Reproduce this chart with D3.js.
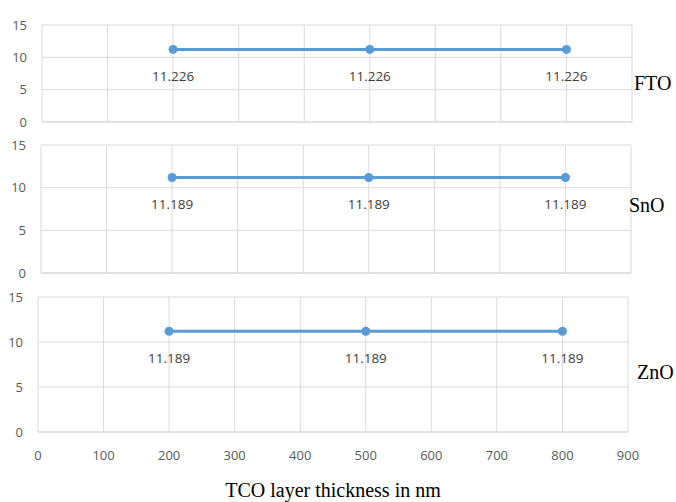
<!DOCTYPE html>
<html>
<head>
<meta charset="utf-8">
<script src="https://cdn.jsdelivr.net/npm/d3@7"></script>
<style>
  html, body { margin: 0; padding: 0; background: #fff; }
  svg { display: block; }
</style>
</head>
<body>
<div id="chart"></div>
<script>
// values
const thickness = [200, 500, 800];
const materials = ["FTO", "SnO", "ZnO"];
const ftoValues = [11.226, 11.226, 11.226];
const snoValues = [11.189, 11.189, 11.189];
const znoValues = [11.189, 11.189, 11.189];
const yTicks = [0, 5, 10, 15];
const xTicks = [0, 100, 200, 300, 400, 500, 600, 700, 800, 900];
const xTitle = "TCO layer thickness in nm";

const width = 676, height = 502;
const series = [ftoValues, snoValues, znoValues];

// panel boxes (the scanned original is slightly skewed, so each has its own)
// nameX / nameY: where the material name sits on the right
const boxes = [
    { left: 42, right: 632, top: 25, bottom: 122, nameX: 634, nameY: 83 },
    { left: 41, right: 631, top: 145, bottom: 273, nameX: 629, nameY: 205 },
    { left: 38, right: 628, top: 297, bottom: 432, nameX: 637, nameY: 372 }
];

const gridColor = "#d9d9d9";
const lineColor = "#5b9bd5";
const tickFont = "'Open Sans', 'DejaVu Sans', sans-serif";
const serifFont = "'Liberation Serif', 'DejaVu Serif', serif";

const svg = d3.select("#chart")
    .append("svg")
    .attr("width", width)
    .attr("height", height);

boxes.forEach((b, i) => {
    const x = d3.scaleLinear().domain([0, 900]).range([b.left, b.right]);
    const y = d3.scaleLinear().domain([0, 15]).range([b.bottom, b.top]);
    const g = svg.append("g");

    // horizontal grid
    g.append("g")
        .selectAll("line")
        .data(yTicks)
        .join("line")
        .attr("x1", b.left)
        .attr("x2", b.right)
        .attr("y1", d => y(d))
        .attr("y2", d => y(d))
        .attr("stroke", gridColor)
        .attr("stroke-width", d => d === 0 ? 1.5 : 1);

    // vertical grid
    g.append("g")
        .selectAll("line")
        .data(xTicks)
        .join("line")
        .attr("x1", d => x(d))
        .attr("x2", d => x(d))
        .attr("y1", b.top)
        .attr("y2", b.bottom)
        .attr("stroke", gridColor)
        .attr("stroke-width", 1);

    // y tick labels
    g.append("g")
        .selectAll("text")
        .data(yTicks)
        .join("text")
        .attr("x", b.left - 15)
        .attr("y", d => y(d))
        .attr("dy", "0.35em")
        .attr("text-anchor", "end")
        .attr("fill", "#595959")
        .style("font", `13px ${tickFont}`)
        .text(d => d);

    const pts = thickness.map((t, j) => ({ t, v: series[i][j] }));

    const line = d3.line()
        .x(d => x(d.t))
        .y(d => y(d.v));

    g.append("path")
        .datum(pts)
        .attr("d", line)
        .attr("fill", "none")
        .attr("stroke", lineColor)
        .attr("stroke-width", 3);

    g.append("g")
        .selectAll("circle")
        .data(pts)
        .join("circle")
        .attr("cx", d => x(d.t))
        .attr("cy", d => y(d.v))
        .attr("r", 4.5)
        .attr("fill", lineColor);

    // data labels under each point
    g.append("g")
        .selectAll("text")
        .data(pts)
        .join("text")
        .attr("x", d => x(d.t))
        .attr("y", d => y(d.v) + 27)
        .attr("dy", "0.35em")
        .attr("text-anchor", "middle")
        .attr("fill", "#404040")
        .style("font", `13.5px ${tickFont}`)
        .text(d => d3.format(".3f")(d.v));

    // material name at right
    g.append("text")
        .attr("x", b.nameX)
        .attr("y", b.nameY)
        .attr("dy", "0.35em")
        .attr("fill", "#000")
        .style("font", `20px ${serifFont}`)
        .text(materials[i]);

    // x tick labels only below the last panel
    if (i === boxes.length - 1) {
        g.append("g")
            .selectAll("text")
            .data(xTicks)
            .join("text")
            .attr("x", d => x(d))
            .attr("y", b.bottom + 23)
            .attr("dy", "0.35em")
            .attr("text-anchor", "middle")
            .attr("fill", "#595959")
            .style("font", `13px ${tickFont}`)
            .text(d => d);

        svg.append("text")
            .attr("x", (b.left + b.right) / 2)
            .attr("y", 490)
            .attr("dy", "0.35em")
            .attr("text-anchor", "middle")
            .attr("fill", "#000")
            .style("font", `20px ${serifFont}`)
            .text(xTitle);
    }
});
</script>
</body>
</html>
